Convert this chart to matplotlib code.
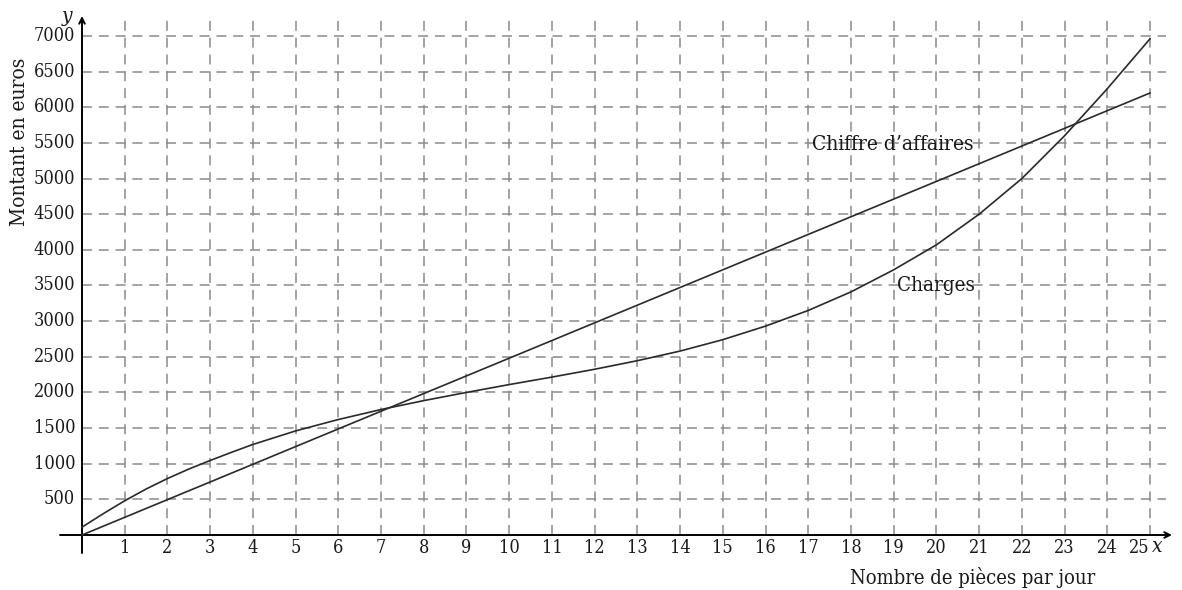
import matplotlib
matplotlib.use("Agg")
import matplotlib.pyplot as plt
from matplotlib.font_manager import FontProperties

# ---- data ----
x_pieces = [0, 0.5, 1, 1.5, 2, 2.5, 3, 3.5, 4, 5, 6, 7, 8, 9, 10, 11, 12,
            13, 14, 15, 16, 17, 18, 19, 20, 21, 22, 23, 24, 25]
charges = [110, 300, 480, 645, 792, 925, 1045, 1160, 1270, 1460, 1620, 1760,
           1885, 2000, 2110, 2215, 2325, 2445, 2580, 2740, 2930, 3150, 3410,
           3720, 4070, 4500, 5000, 5600, 6260, 6960]
ca_x = [0, 25]
ca_y = [0, 6200]
x_ticks = list(range(1, 26))
y_ticks = list(range(500, 7001, 500))

W, H = 1182, 590
fig = plt.figure(figsize=(W / 100, H / 100), dpi=100)

px0, pxs = 82.0, 42.72      # pixel of x=0, pixels per unit
py0, pys = 535.0, 0.07129   # pixel of y=0, pixels per euro
ax_l, ax_r, ax_t, ax_b = 50, 1180, 5, 565
ax = fig.add_axes([ax_l / W, 1 - ax_b / H, (ax_r - ax_l) / W, (ax_b - ax_t) / H])
ax.set_xlim((ax_l - px0) / pxs, (ax_r - px0) / pxs)
ax.set_ylim((py0 - ax_b) / pys, (py0 - ax_t) / pys)
for s in ax.spines.values():
    s.set_visible(False)
ax.set_xticks([])
ax.set_yticks([])


def fp(size, style="normal"):
    return FontProperties(family="DejaVu Serif", stretch="condensed",
                          size=size, style=style)


def X(p):
    return (p - px0) / pxs


def Y(p):
    return (py0 - p) / pys


txt_col = "#1a1a1a"
grid_kw = dict(color="#8a8a8a", lw=1.1, dashes=(6.5, 4.5))
for xv in x_ticks:
    ax.plot([xv, xv], [0, Y(18)], **grid_kw, zorder=1)
for yv in y_ticks:
    ax.plot([0, X(1166)], [yv, yv], **grid_kw, zorder=1)

# axes with arrows
ax.annotate("", xy=(X(1172), 0), xytext=(X(60), 0),
            arrowprops=dict(arrowstyle="->", lw=1.4, color="black",
                            shrinkA=0, shrinkB=0), zorder=3)
ax.annotate("", xy=(0, Y(16)), xytext=(0, Y(553)),
            arrowprops=dict(arrowstyle="->", lw=1.4, color="black",
                            shrinkA=0, shrinkB=0), zorder=3)

# curves
ax.plot(x_pieces, charges, color="#2a2a2a", lw=1.2, zorder=4)
ax.plot(ca_x, ca_y, color="#2a2a2a", lw=1.2, zorder=4)

# tick labels
for xv in x_ticks:
    xpos = X(1139) if xv == 25 else xv
    ax.text(xpos, Y(548), str(xv), ha="center", va="center",
            fontproperties=fp(13), color=txt_col)
for yv in y_ticks:
    ax.text(X(75), yv, str(yv), ha="right", va="center",
            fontproperties=fp(13), color=txt_col)

# axis names
ax.text(X(1152), Y(546), "x", ha="left", va="center",
        fontproperties=fp(15, "italic"), color=txt_col)
ax.text(X(67), Y(16), "y", ha="center", va="center",
        fontproperties=fp(15, "italic"), color=txt_col)
ax.text(X(973), Y(578), "Nombre de pièces par jour", ha="center",
        va="center", fontproperties=fp(14.5), color=txt_col, clip_on=False)
ax.text(X(20), Y(142), "Montant en euros", rotation=90, ha="center",
        va="center", fontproperties=fp(15), color=txt_col, clip_on=False)

# curve labels
ax.text(X(812), Y(144), "Chiffre d’affaires", ha="left", va="center",
        fontproperties=fp(15), color=txt_col)
ax.text(X(897), Y(285), "Charges", ha="left", va="center",
        fontproperties=fp(14.8), color=txt_col)

fig.savefig("out.png", dpi=100)
